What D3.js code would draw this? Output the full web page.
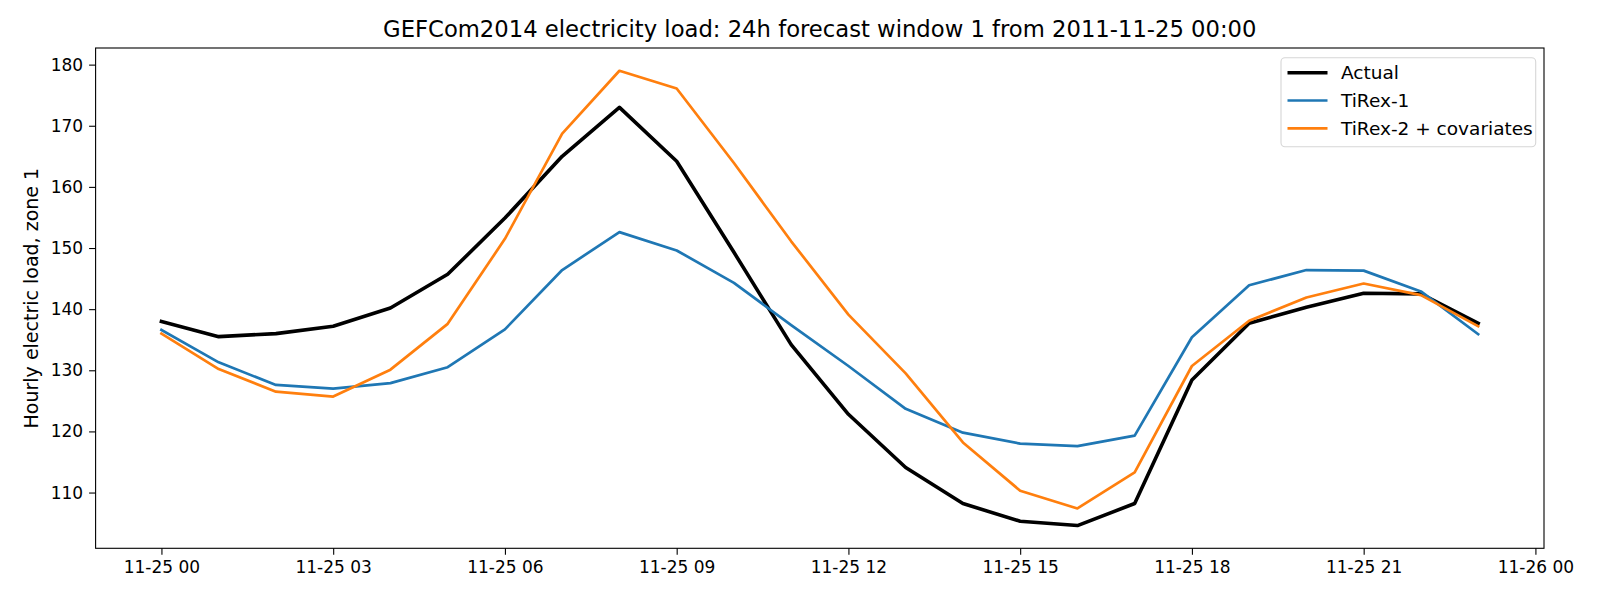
<!DOCTYPE html>
<html><head><meta charset="utf-8">
<script src="https://cdn.jsdelivr.net/npm/d3@7"></script>
<style>body{margin:0;background:#fff}svg{display:block}text{font-family:"DejaVu Sans",sans-serif}</style>
</head><body><svg id="c" width="1600" height="600"></svg>
<script>
const startTime = "2011-11-25T00:00:00Z";
const hours = [0,1,2,3,4,5,6,7,8,9,10,11,12,13,14,15,16,17,18,19,20,21,22,23];
const actual = [138.0,135.5,136.0,137.2,140.2,145.7,154.9,165.0,173.0,164.2,149.3,134.2,122.8,114.1,108.2,105.3,104.6,108.2,128.4,137.7,140.3,142.6,142.5,137.7];
const tirex1 = [136.6,131.3,127.6,127.0,127.9,130.5,136.7,146.4,152.6,149.6,144.3,137.4,130.7,123.7,119.8,118.0,117.6,119.3,135.4,143.9,146.4,146.3,142.9,135.9];
const tirex2 = [136.0,130.2,126.5,125.7,130.1,137.6,151.5,168.7,179.0,176.1,163.9,151.1,139.1,129.5,118.2,110.3,107.4,113.3,130.7,138.1,141.9,144.2,142.3,137.2];
const seriesNames = ["Actual","TiRex-1","TiRex-2 + covariates"];
const yTicks = [110,120,130,140,150,160,170,180];
const titleText = "GEFCom2014 electricity load: 24h forecast window 1 from 2011-11-25 00:00";
const yLabel = "Hourly electric load, zone 1";

const svg = d3.select("#c");
const L=95.6, R=1544, T=48, B=548.3;
const t0 = new Date(startTime);
const times = hours.map(h => new Date(t0.getTime()+h*3600e3));
const x = d3.scaleUtc().domain([new Date(t0.getTime()-1.15*3600e3), new Date(t0.getTime()+24.15*3600e3)]).range([L,R]);
const allV = actual.concat(tirex1, tirex2);
const mn = d3.min(allV), mx = d3.max(allV), pad = (mx-mn)*0.05;
const y = d3.scaleLinear().domain([mn-pad, mx+pad]).range([B,T]);

const series = [
  {name: seriesNames[0], vals: actual, color:"#000000", w:3.6},
  {name: seriesNames[1], vals: tirex1, color:"#1f77b4", w:2.7},
  {name: seriesNames[2], vals: tirex2, color:"#ff7f0e", w:2.7}
];
const line = d3.line().x((d,i)=>x(times[i])).y(d=>y(d));
const g = svg.append("g");
g.append("defs").append("clipPath").attr("id","clip").append("rect").attr("x",L).attr("y",T).attr("width",R-L).attr("height",B-T);
const lg = g.append("g").attr("clip-path","url(#clip)");
series.forEach(s=>{
  lg.append("path").attr("d",line(s.vals)).attr("fill","none").attr("stroke",s.color).attr("stroke-width",s.w).attr("stroke-linejoin","round").attr("stroke-linecap","square");
});

// axes
const xTickVals = d3.range(0,25,3).map(h=>new Date(t0.getTime()+h*3600e3));
const xAxis = d3.axisBottom(x).tickValues(xTickVals).tickFormat(d3.utcFormat("%m-%d %H")).tickSize(6.5).tickPadding(6);
const yAxis = d3.axisLeft(y).tickValues(yTicks).tickSize(6.5).tickPadding(6);
const gx = svg.append("g").attr("transform",`translate(0,${B})`).call(xAxis);
const gy = svg.append("g").attr("transform",`translate(${L},0)`).call(yAxis);
[gx,gy].forEach(a=>{
  a.select(".domain").remove();
  a.selectAll(".tick line").attr("stroke","#000").attr("stroke-width",1.1);
  a.selectAll(".tick text").attr("fill","#000").style("font-size","17px").style("font-family","DejaVu Sans");
});
svg.append("rect").attr("x",L).attr("y",T).attr("width",R-L).attr("height",B-T).attr("fill","none").attr("stroke","#000").attr("stroke-width",1.1);

svg.append("text").attr("x",(L+R)/2).attr("y",37).attr("text-anchor","middle").style("font-size","22.7px").text(titleText);
svg.append("text").attr("transform",`translate(37.5,${(T+B)/2}) rotate(-90)`).attr("text-anchor","middle").style("font-size","19px").text(yLabel);

// legend
const lgd = svg.append("g");
lgd.append("rect").attr("x",1281).attr("y",57.7).attr("width",254.7).attr("height",89).attr("rx",4).attr("fill","#fff").attr("fill-opacity",0.8).attr("stroke","#d6d6d6").attr("stroke-width",1.1);
series.forEach((s,i)=>{
  const yy = 72.7 + i*27.8;
  lgd.append("line").attr("x1",1287.5).attr("x2",1327.5).attr("y1",yy).attr("y2",yy).attr("stroke",s.color).attr("stroke-width",s.w);
  lgd.append("text").attr("x",1341).attr("y",yy).attr("dy","0.35em").style("font-size","18.5px").text(s.name);
});
</script></body></html>
